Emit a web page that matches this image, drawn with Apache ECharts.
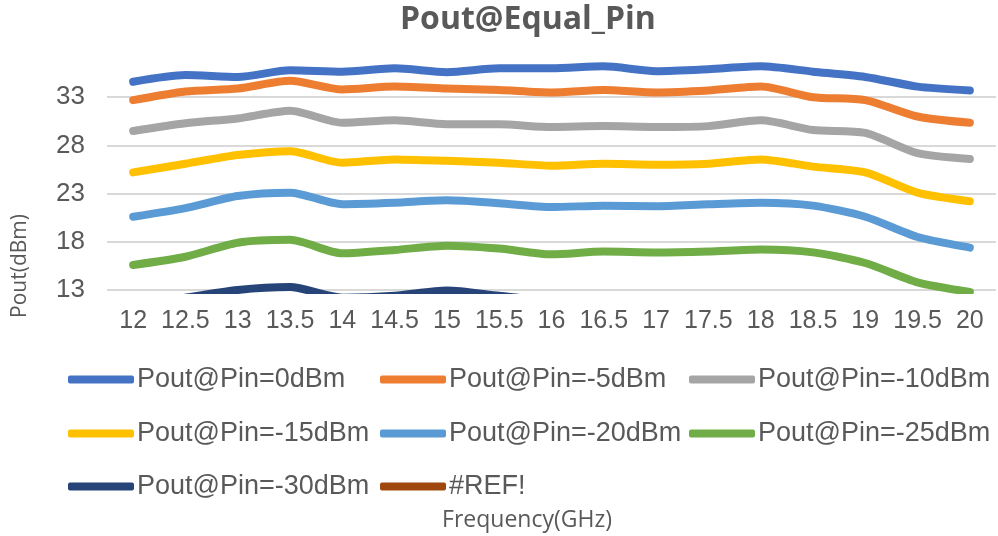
<!DOCTYPE html>
<html>
<head>
<meta charset="utf-8">
<script src="https://cdn.jsdelivr.net/npm/echarts@6/dist/echarts.min.js"></script>
<style>html,body{margin:0;padding:0;background:#fff}#c{width:998px;height:536px}</style>
</head>
<body>
<div id="c"></div>
<script>
var categories = ['12','12.5','13','13.5','14','14.5','15','15.5','16','16.5','17','17.5','18','18.5','19','19.5','20'];
var seriesNames = ['Pout@Pin=0dBm','Pout@Pin=-5dBm','Pout@Pin=-10dBm','Pout@Pin=-15dBm','Pout@Pin=-20dBm','Pout@Pin=-25dBm','Pout@Pin=-30dBm','#REF!'];
var pin0   = [34.6,35.3,35.1,35.8,35.65,36.0,35.6,36.0,36.0,36.2,35.7,35.9,36.2,35.65,35.1,34.1,33.7];
var pinM5  = [32.7,33.6,33.9,34.7,33.8,34.1,33.9,33.75,33.5,33.75,33.5,33.7,34.1,33.0,32.7,31.0,30.35];
var pinM10 = [29.5,30.3,30.8,31.6,30.35,30.6,30.2,30.2,29.9,30.0,29.9,30.0,30.6,29.6,29.3,27.2,26.6];
var pinM15 = [25.2,26.1,27.0,27.4,26.2,26.55,26.4,26.2,25.9,26.1,26.0,26.1,26.55,25.8,25.2,23.1,22.2];
var pinM20 = [20.6,21.5,22.75,23.1,21.9,22.05,22.3,22.0,21.6,21.75,21.7,21.9,22.05,21.75,20.6,18.5,17.4];
var pinM25 = [15.6,16.45,17.9,18.2,16.8,17.15,17.6,17.3,16.7,17.0,16.9,17.0,17.2,16.9,15.8,13.8,12.8];
var pinM30 = [11.3,12.2,13.0,13.3,12.2,12.4,12.95,12.4,11.9,12.0,11.9,12.0,12.1,11.9,11.2,9.4,8.6];
var pinRef = [];
var colors = ['#4472C4','#ED7D31','#A5A5A5','#FFC000','#5B9BD5','#70AD47','#264478','#9E480E'];
var yTicks = [13, 18, 23, 28, 33];

var allData = [pin0,pinM5,pinM10,pinM15,pinM20,pinM25,pinM30,pinRef];
var labelFont = '"Liberation Sans",Arial,sans-serif';
var titleFont = '"Open Sans",sans-serif';
var labelColor = '#595959';

var legendPos = [
  [68,366],[380,366],[689,366],
  [68,420],[380,420],[689,420],
  [68,473],[380,473]
];

var series = seriesNames.map(function(n,i){
  return {
    name: n, type: 'line', data: allData[i], smooth: 0.25, symbol: 'none',
    lineStyle: {width: 8, color: colors[i], cap: 'round', join: 'round'},
    itemStyle: {color: colors[i]}, clip: true
  };
});

var legends = seriesNames.map(function(n,i){
  return {
    data: [n], left: legendPos[i][0], top: legendPos[i][1], padding: 0,
    icon: 'roundRect', itemWidth: 66, itemHeight: 8, itemGap: 0,
    textStyle: {fontFamily: labelFont, fontSize: 27, color: labelColor, padding: [0,0,0,-2]},
    selectedMode: false
  };
});

var chart = echarts.init(document.getElementById('c'));
chart.setOption({
  animation: false,
  color: colors,
  title: {
    text: 'Pout@Equal_Pin', left: 400, top: 4, padding: 0,
    textStyle: {fontFamily: titleFont, fontWeight: 'bold', fontSize: 32, color: labelColor}
  },
  legend: legends,
  grid: {left: 107, right: 2, top: 49, bottom: 246, containLabel: false},
  xAxis: {
    type: 'category', data: categories, boundaryGap: true,
    axisLine: {show: false}, axisTick: {show: false},
    axisLabel: {interval: 0, fontFamily: labelFont, fontSize: 25, color: labelColor, margin: 19}
  },
  yAxis: {
    type: 'value', min: 13, max: 38, interval: 5,
    axisLine: {show: false}, axisTick: {show: false},
    axisLabel: {fontFamily: labelFont, fontSize: 26, color: labelColor, margin: 22,
      formatter: function(v){ return yTicks.indexOf(v) >= 0 ? String(v) : ''; }},
    splitLine: {show: true, showMaxLine: false, lineStyle: {color: '#D9D9D9', width: 2}}
  },
  graphic: [{
    type: 'text', x: 20, y: 266, rotation: Math.PI/2,
    style: {text: 'Pout(dBm)', fill: labelColor, font: '21px "Open Sans", sans-serif', align: 'center', verticalAlign: 'middle'}
  }, {
    type: 'text', x: 527, y: 520,
    style: {text: 'Frequency(GHz)', fill: labelColor, font: '23px "Open Sans", sans-serif', align: 'center', verticalAlign: 'middle'}
  }],
  series: series
});
</script>
</body>
</html>
